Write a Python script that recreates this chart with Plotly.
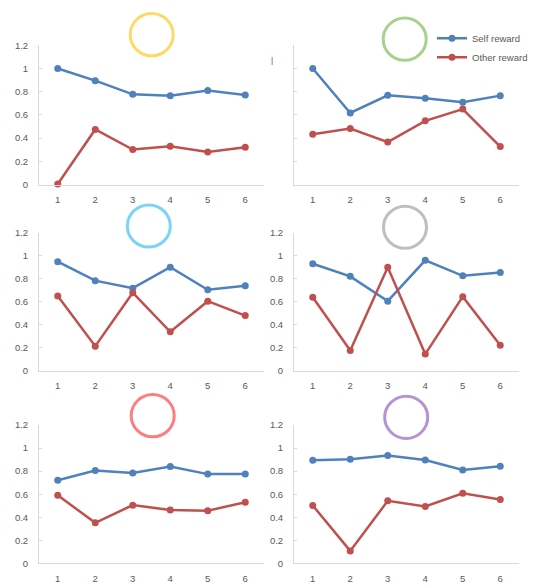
import plotly.graph_objects as go

W, H = 533, 587

trials = [1, 2, 3, 4, 5, 6]
tick_labels = ["1", "2", "3", "4", "5", "6"]

self_p1 = [1.00, 0.895, 0.777, 0.766, 0.81, 0.771]
other_p1 = [0.005, 0.475, 0.302, 0.33, 0.28, 0.322]

self_p2 = [1.00, 0.617, 0.769, 0.744, 0.71, 0.766]
other_p2 = [0.434, 0.482, 0.366, 0.549, 0.65, 0.327]

self_p3 = [0.948, 0.784, 0.719, 0.90, 0.705, 0.739]
other_p3 = [0.651, 0.215, 0.679, 0.34, 0.606, 0.481]

self_p4 = [0.931, 0.821, 0.606, 0.96, 0.826, 0.855]
other_p4 = [0.64, 0.178, 0.90, 0.147, 0.645, 0.224]

self_p5 = [0.721, 0.806, 0.783, 0.84, 0.774, 0.774]
other_p5 = [0.59, 0.352, 0.505, 0.462, 0.457, 0.53]

self_p6 = [0.894, 0.902, 0.936, 0.896, 0.809, 0.843]
other_p6 = [0.502, 0.108, 0.542, 0.494, 0.607, 0.553]

circle_colors = ["#FFD966", "#A9D18E", "#7DD3F5", "#BFBFBF", "#FF7C80", "#B494D2"]

BLUE = "#4F81BD"
RED = "#C0504D"
AX = "#D9D9D9"
TXT = "#595959"
FONT = "Liberation Sans"

# panel geometry in pixels: (x_left, x_right, y_top, y_bottom)
panels = [
    (39, 264, 40, 182),
    (294, 519, 40, 182),
    (39, 264, 231, 372),
    (294, 519, 231, 372),
    (39, 264, 427, 568),
    (294, 519, 427, 568),
]
circles = [(151.7, 29.2), (404.7, 33.8), (148.8, 224.2), (405, 225.5), (152.7, 417.5), (406.2, 419.2)]
R = 21.5

series = [
    (self_p1, other_p1), (self_p2, other_p2), (self_p3, other_p3),
    (self_p4, other_p4), (self_p5, other_p5), (self_p6, other_p6),
]

def px(x):
    return x / W

def py(y):
    return 1 - y / H

fig = go.Figure()
layout = dict(
    width=W, height=H, margin=dict(l=0, r=0, t=0, b=0),
    paper_bgcolor="white", plot_bgcolor="white",
    font=dict(family=FONT, size=9.5, color=TXT),
    shapes=[], annotations=[],
)

for i, ((x0, x1, y0, y1), (s, o)) in enumerate(zip(panels, series)):
    n = i + 1
    xa = "x" if n == 1 else f"x{n}"
    ya = "y" if n == 1 else f"y{n}"
    show = (n == 2)
    fig.add_trace(go.Scatter(
        x=trials, y=s, mode="lines+markers", name="Self reward",
        line=dict(color=BLUE, width=2.5), marker=dict(color=BLUE, size=7),
        xaxis=xa, yaxis=ya, showlegend=show, cliponaxis=False))
    fig.add_trace(go.Scatter(
        x=trials, y=o, mode="lines+markers", name="Other reward",
        line=dict(color=RED, width=2.5), marker=dict(color=RED, size=7),
        xaxis=xa, yaxis=ya, showlegend=show, cliponaxis=False))
    layout[f"xaxis{'' if n == 1 else n}"] = dict(
        domain=[px(x0), px(x1)], anchor=ya, range=[0.5, 6.5],
        tickvals=trials, ticktext=tick_labels, showgrid=False, zeroline=False,
        showline=True, linecolor=AX, linewidth=1, ticks="",
        ticklabelstandoff=6, tickfont=dict(family=FONT, size=9.5, color=TXT),
    )
    layout[f"yaxis{'' if n == 1 else n}"] = dict(
        domain=[py(y1), py(y0)], anchor=xa, range=[0, 1.2], dtick=0.2,
        showgrid=False, zeroline=False, showline=True, linecolor=AX, linewidth=1,
        ticks="inside", ticklen=3, tickcolor=AX, tickwidth=1,
        showticklabels=(n != 2), ticklabelstandoff=8,
        tickfont=dict(family=FONT, size=9.5, color=TXT),
    )
    cx, cy = circles[i]
    layout["shapes"].append(dict(
        type="circle", xref="paper", yref="paper",
        x0=px(cx - R), x1=px(cx + R), y0=py(cy + R), y1=py(cy - R),
        line=dict(color=circle_colors[i], width=3), fillcolor="rgba(0,0,0,0)"))

layout["annotations"].append(dict(
    text="l", xref="paper", yref="paper", x=px(272), y=py(49),
    showarrow=False, font=dict(family=FONT, size=10, color="#7F7F7F")))

layout["legend"] = dict(
    x=px(432), y=py(18), xanchor="left", yanchor="top",
    bgcolor="rgba(0,0,0,0)", font=dict(family=FONT, size=9.5, color=TXT),
    itemwidth=30, tracegroupgap=0,
)

fig.update_layout(**layout)
post = (
    "document.body.style.margin='0';"
    "document.body.style.overflow='hidden';"
    "var gd=document.getElementById('{plot_id}');"
    "gd.style.position='fixed';gd.style.top='0px';gd.style.left='0px';"
)
fig.write_html("out.html", config={"displayModeBar": False}, post_script=post)
